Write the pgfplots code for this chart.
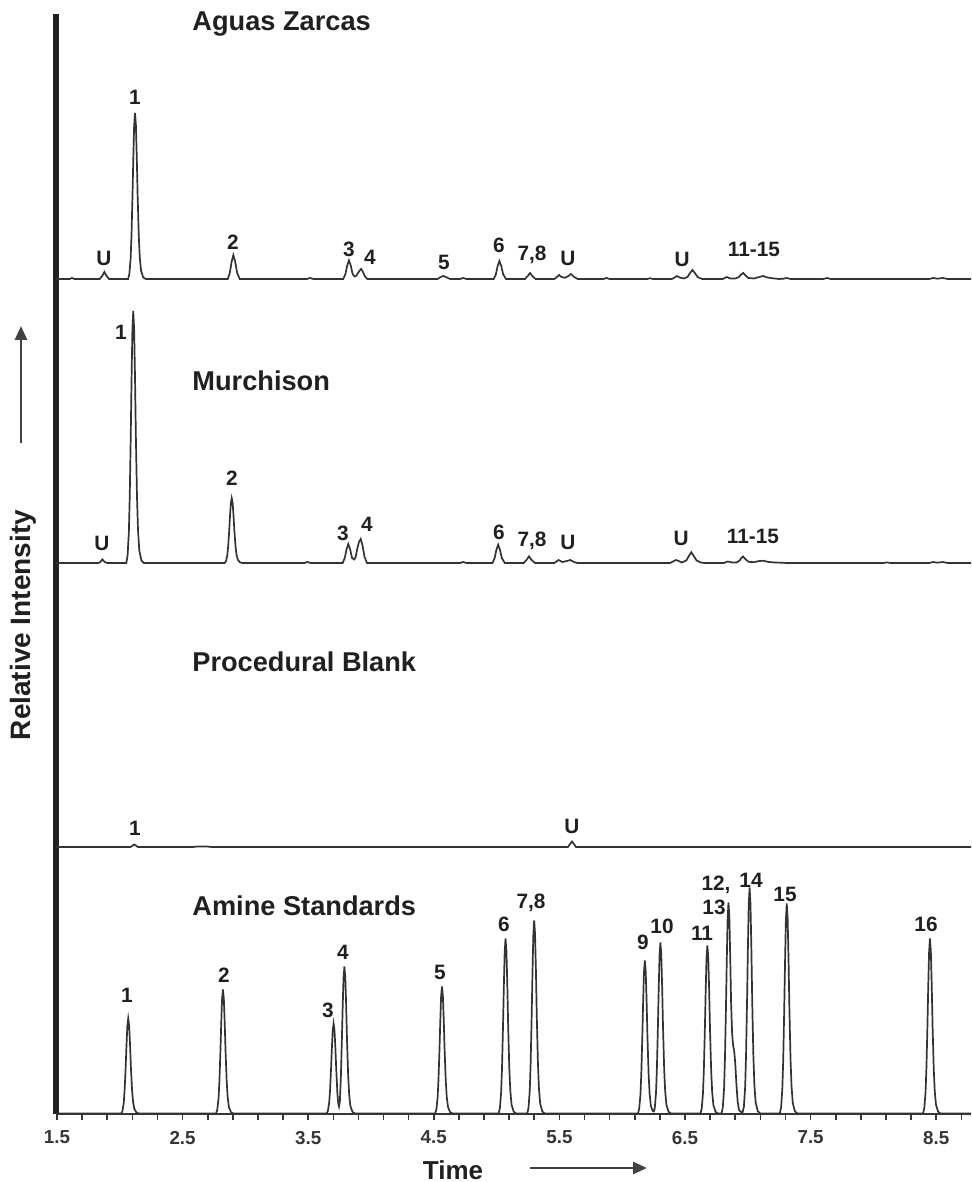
\documentclass[border=0pt]{standalone}
\usepackage{pgfplots}
\pgfplotsset{compat=1.18}
\usepackage{pgfplotstable}
\usepackage{fontspec}
\setmainfont{Liberation Sans}
\usetikzlibrary{arrows.meta}
\definecolor{trace}{HTML}{333333}
\definecolor{axblack}{HTML}{231F20}

\pgfplotstableread{
x y
1.494 0
1.60 0
1.619 1
1.64 0
1.84 0
1.862 3.5
1.877 7
1.892 3.5
1.915 0
2.066 0
2.076 5
2.086 19.9
2.093 43.2
2.101 83
2.107 117.9
2.114 152.7
2.121 166
2.128 154.4
2.135 122.8
2.142 83
2.151 43.2
2.159 21.6
2.169 8.3
2.186 1.7
2.206 0
2.86 0
2.876 6.2
2.890 17
2.904 24
2.918 17.8
2.934 6.2
2.955 0
3.49 0
3.514 1
3.54 0
3.779 0
3.796 4.8
3.810 13.2
3.824 18.6
3.838 13.8
3.854 4.8
3.869 2.5
3.881 3
3.894 5.5
3.907 8
3.921 10
3.935 7.4
3.951 2.6
3.971 0
4.53 0
4.555 2
4.575 3
4.595 2
4.63 0
4.71 0
4.734 1
4.76 0
4.977 0
4.994 4.6
5.008 12.8
5.022 18
5.036 13.3
5.052 4.7
5.075 0
5.225 0
5.248 3
5.266 6
5.284 3
5.31 0
5.46 0
5.48 2
5.498 4
5.516 2
5.545 1.2
5.572 3
5.592 5
5.612 2.5
5.645 0
5.85 0
5.875 1
5.90 0
6.20 0
6.222 0.8
6.245 0
6.395 0
6.418 1.5
6.436 3
6.456 1.5
6.49 0.5
6.52 2
6.54 6
6.559 9
6.578 6
6.60 2
6.635 0
6.80 0
6.832 2
6.86 0.5
6.90 0.5
6.93 2
6.946 4.5
6.964 6
6.982 3.5
7.005 1
7.05 0.5
7.09 2
7.122 3
7.155 1.5
7.21 0.5
7.25 0
7.285 0.3
7.309 1
7.34 0
7.60 0
7.631 1
7.66 0
8.445 0
8.474 1
8.51 0.3
8.553 1
8.59 0
8.777 0
}\aguas

\pgfplotstableread{
x y
1.494 0
1.83 0
1.845 1
1.861 3.5
1.88 1
1.90 0
2.052 0
2.062 7.6
2.072 30.2
2.079 65.5
2.087 126
2.093 178.9
2.100 231.8
2.107 252
2.114 234.4
2.121 186.5
2.128 126
2.137 65.5
2.145 32.8
2.155 12.6
2.172 2.5
2.192 0
2.836 0
2.846 2
2.856 7.8
2.863 16.9
2.871 32.5
2.877 46.2
2.884 59.8
2.891 65
2.898 60.5
2.905 48.1
2.912 32.5
2.921 16.9
2.929 8.5
2.939 3.3
2.956 0.7
2.976 0
3.47 0
3.494 1
3.52 0
3.774 0
3.791 5
3.805 13.5
3.819 19
3.833 14
3.849 5
3.866 3.5
3.878 6
3.890 14
3.904 21
3.918 24
3.932 17.8
3.948 6.2
3.968 0
4.71 0
4.734 1
4.76 0
4.967 0
4.984 4.8
4.998 13
5.012 18.3
5.026 13.5
5.042 4.8
5.065 0
5.215 0
5.24 3.3
5.258 6.7
5.276 3.3
5.305 0
5.46 0
5.493 3
5.525 1
5.56 2
5.587 3
5.615 1
5.645 0
6.38 0
6.405 1.5
6.428 3
6.45 2
6.475 0.5
6.51 2.5
6.531 7
6.550 10.8
6.569 7
6.592 2.5
6.625 0.5
6.655 0
6.81 0
6.841 1.5
6.875 0.5
6.91 0.5
6.935 2.5
6.948 5
6.962 6.5
6.980 4
7.005 1.2
7.05 0.8
7.09 2
7.124 2.2
7.165 1
7.215 0.5
7.26 0.3
7.31 0
8.08 0
8.107 0.6
8.135 0
8.445 0
8.474 1
8.51 0.3
8.553 1
8.59 0
8.777 0
}\murchison

\pgfplotstableread{
x y
1.494 0
2.085 0
2.115 2.5
2.145 0
2.58 0
2.621 0.5
2.691 0.5
2.73 0
5.568 0
5.600 5.5
5.632 0
8.777 0
}\blank

\pgfplotstableread{
x y
1.494 0
2.012 0
2.022 2.9
2.032 11.4
2.039 24.7
2.047 47.5
2.053 67.5
2.060 87.4
2.067 95
2.074 88.4
2.081 70.3
2.088 47.5
2.097 24.7
2.105 12.4
2.115 4.8
2.132 1.0
2.152 0
2.766 0
2.776 3.7
2.786 14.9
2.793 32.2
2.801 62
2.807 88
2.814 114
2.821 124
2.828 115.3
2.835 91.8
2.842 62
2.851 32.2
2.859 16.1
2.869 6.2
2.886 1.2
2.906 0
3.647 0
3.657 2.7
3.667 10.8
3.674 23.4
3.682 45
3.688 63.9
3.695 82.8
3.702 90
3.709 83.7
3.716 66.6
3.723 45
3.732 21
3.739 10
3.745 7
3.752 12
3.760 36
3.768 73.5
3.774 104.4
3.781 135.2
3.788 147
3.795 136.7
3.802 108.8
3.809 73.5
3.818 38.2
3.826 19.1
3.836 7.4
3.853 1.5
3.873 0
4.510 0
4.520 3.8
4.530 15.2
4.537 33
4.545 63.5
4.551 90.2
4.558 116.8
4.565 127
4.572 118.1
4.579 94
4.586 63.5
4.595 33
4.603 16.5
4.613 6.4
4.630 1.3
4.650 0
5.016 0
5.026 5.3
5.036 21
5.043 45.5
5.051 87.5
5.057 124.3
5.064 161
5.071 175
5.078 162.8
5.085 129.5
5.092 87.5
5.101 45.5
5.109 22.8
5.119 8.8
5.136 1.8
5.156 0
5.244 0
5.254 5.8
5.264 23.2
5.271 50.2
5.279 96.5
5.285 137
5.292 177.6
5.299 193
5.306 179.5
5.313 142.8
5.320 96.5
5.329 50.2
5.337 25.1
5.347 9.7
5.364 1.9
5.384 0
6.125 0
6.135 4.6
6.145 18.4
6.152 39.8
6.160 76.5
6.166 108.6
6.173 140.8
6.180 153
6.187 142.3
6.194 113.2
6.201 76.5
6.210 39.8
6.218 19.9
6.228 7.7
6.243 2.5
6.251 2
6.259 5.1
6.269 20.5
6.276 44.5
6.284 85.5
6.290 121.4
6.297 157.3
6.304 171
6.311 159
6.318 126.5
6.325 85.5
6.334 44.5
6.342 22.2
6.352 8.6
6.369 1.7
6.389 0
6.623 0
6.633 5
6.643 20.2
6.650 43.7
6.658 84
6.664 119.3
6.671 154.6
6.678 168
6.685 156.2
6.692 124.3
6.699 84
6.708 43.7
6.716 21.8
6.726 8.4
6.743 1.7
6.763 0
6.791 0
6.801 6.3
6.811 25.3
6.818 54.9
6.826 105.5
6.832 149.8
6.839 194.1
6.846 211
6.853 196.2
6.860 156.1
6.867 110
6.875 80
6.883 68
6.892 62
6.900 50
6.909 30
6.919 12
6.929 4
6.939 2
6.949 1.5
6.959 1.5
6.969 7
6.979 27.1
6.986 58.8
6.994 113
7.000 160.5
7.007 208
7.014 226
7.021 210.2
7.028 167.2
7.035 113
7.044 58.8
7.052 29.4
7.062 11.3
7.079 2.3
7.099 0
7.255 0
7.265 6.3
7.275 25.2
7.282 54.6
7.290 105
7.296 149.1
7.303 193.2
7.310 210
7.317 195.3
7.324 155.4
7.331 105
7.340 54.6
7.348 27.3
7.358 10.5
7.375 2.1
7.395 0
8.395 0
8.405 5.3
8.415 21
8.422 45.5
8.430 87.5
8.436 124.3
8.443 161
8.450 175
8.457 162.8
8.464 129.5
8.471 87.5
8.480 45.5
8.488 22.8
8.498 8.8
8.515 1.8
8.535 0
8.777 0
}\standards

\begin{document}
\begin{tikzpicture}
\useasboundingbox (-28.15pt,-34pt) rectangle (457.35pt,557pt);
\begin{axis}[
  scale only axis,
  width=457.35pt, height=550pt,
  xmin=1.4944, xmax=8.777, ymin=0, ymax=1100,
  axis lines*=left,
  x axis line style={line width=1.2pt, color=axblack!90},
  y axis line style={line width=3pt, color=axblack},
  ytick=\empty,
  xtick={1.5,2.5,3.5,4.5,5.5,6.5,7.5,8.5},
  minor xtick={1.7,1.9,2.1,2.3,2.7,2.9,3.1,3.3,3.7,3.9,4.1,4.3,4.7,4.9,5.1,5.3,5.7,5.9,6.1,6.3,6.7,6.9,7.1,7.3,7.7,7.9,8.1,8.3,8.7},
  tick align=outside,
  major tick length=3pt, minor tick length=3pt,
  tick style={line width=0.8pt, color=axblack!90},
  xticklabel={\pgfmathprintnumber[fixed,fixed zerofill,precision=1,assume math mode=true]{\tick}},
  xticklabel style={font=\bfseries\fontsize{9.4}{11}\selectfont, color=axblack!90, yshift=-2pt},
  clip=false,
]
\addplot[trace, line width=0.85pt] table[x=x, y expr=\thisrow{y}+835] {\aguas};
\addplot[trace, line width=0.85pt] table[x=x, y expr=\thisrow{y}+551] {\murchison};
\addplot[trace, line width=0.85pt] table[x=x, y expr=\thisrow{y}+267] {\blank};
\addplot[trace, line width=0.85pt] table[x=x, y expr=\thisrow{y}+0.5] {\standards};
\end{axis}
\begin{scope}[shift={(-28.15pt,557pt)}, x=0.5pt, y=-0.5pt,
  lab/.style={font=\bfseries\fontsize{10.4}{12}\selectfont, text height=7.4pt, text depth=0pt, inner sep=0pt, anchor=center, text=axblack},
  ttl/.style={font=\bfseries\fontsize{13.6}{16}\selectfont, inner sep=0pt, anchor=base west, text=axblack}]
  % titles
  \node[ttl] at (192,31) {Aguas Zarcas};
  \node[ttl] at (192,391) {Murchison};
  \node[ttl] at (192,672) {Procedural Blank};
  \node[ttl] at (192,916) {Amine Standards};
  % Aguas Zarcas labels
  \node[lab] at (104,258) {U};
  \node[lab] at (135,97) {1};
  \node[lab] at (233,242) {2};
  \node[lab] at (349,249) {3};
  \node[lab] at (370,257) {4};
  \node[lab] at (444,262) {5};
  \node[lab] at (499,245) {6};
  \node[lab] at (532,253) {7,8};
  \node[lab] at (568,258) {U};
  \node[lab] at (682,259) {U};
  \node[lab] at (754,249) {11-15};
  % Murchison labels
  \node[lab] at (102,543) {U};
  \node[lab] at (121,332) {1};
  \node[lab] at (232,478) {2};
  \node[lab] at (343,533) {3};
  \node[lab] at (367,524) {4};
  \node[lab] at (499,532) {6};
  \node[lab] at (532,539) {7,8};
  \node[lab] at (568,542) {U};
  \node[lab] at (681,538) {U};
  \node[lab] at (753,536) {11-15};
  % Blank labels
  \node[lab] at (135,828) {1};
  \node[lab] at (572,826) {U};
  % Standards labels
  \node[lab] at (127,995) {1};
  \node[lab] at (224,975) {2};
  \node[lab] at (328,1010) {3};
  \node[lab] at (343,952) {4};
  \node[lab] at (440,972) {5};
  \node[lab] at (504,924) {6};
  \node[lab] at (531,901) {7,8};
  \node[lab] at (643,942) {9};
  \node[lab] at (662,926) {10};
  \node[lab] at (702,933) {11};
  \node[lab] at (716,883) {12,};
  \node[lab] at (714,907) {13};
  \node[lab] at (751,880) {14};
  \node[lab] at (785,894) {15};
  \node[lab] at (926,924) {16};
  % axis titles and arrows
  \node[font=\bfseries\fontsize{13}{15}\selectfont, anchor=base, inner sep=0pt, text=axblack] at (453,1179) {Time};
  \draw[line width=1.4pt, color=axblack!85, -{Triangle[length=7pt,width=6pt]}] (530,1168) -- (647,1168);
  \node[font=\bfseries\fontsize{14}{16}\selectfont, rotate=90, inner sep=0pt, text=axblack] at (23,625) {Relative Intensity};
  \draw[line width=1.4pt, color=axblack!85, -{Triangle[length=7pt,width=6pt]}] (21,443) -- (21,326);
\end{scope}
\end{tikzpicture}
\end{document}
